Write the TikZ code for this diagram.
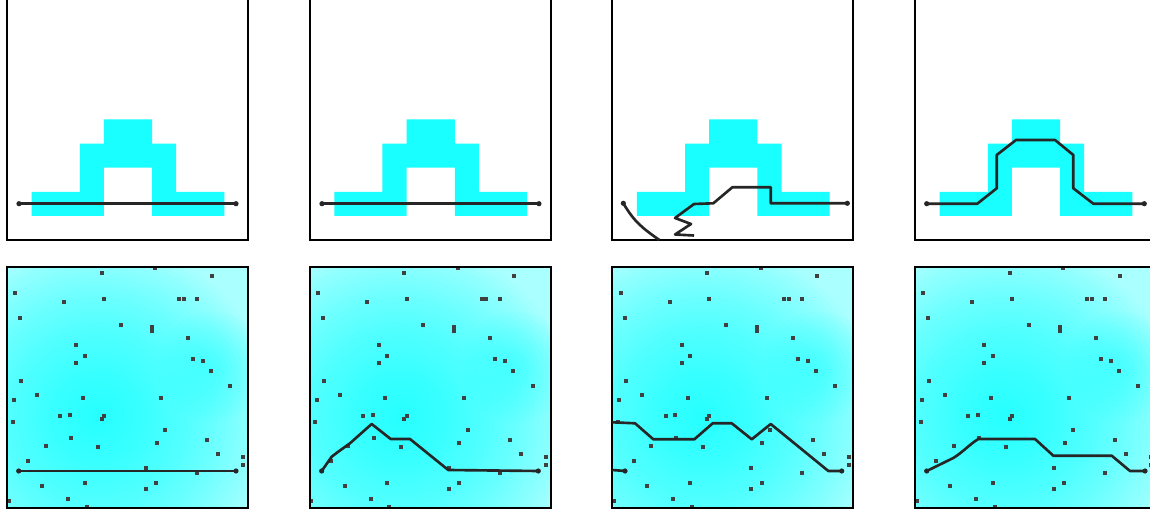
\documentclass[tikz,border=0pt]{standalone}
\usepackage{xcolor}
\usepackage{tikz}

\definecolor{aqua}{RGB}{0,255,255}
\definecolor{paleaqua}{RGB}{170,255,255}
\tikzset{
  frame/.style={draw=black, line width=1.2pt},
  route/.style={draw=black!85, line width=1.5pt, line join=round},
  blob/.style={fill=aqua, opacity=0.035},
  obst/.style={fill=black!75},
}
\newcommand{\pathend}[1]{\fill[black!85] #1 circle (2.6);}

\begin{document}
\begin{tikzpicture}[x=0.2mm, y=-0.2mm]
    \useasboundingbox (0,0) rectangle (1150,509);
    \clip (0,0) rectangle (1150,509);
    \fill[white] (0,0) rectangle (1150,509);

    % the four panel pairs
    \foreach \i in {0,...,3} {
      \begin{scope}[shift={(\i*302.67+7,0)}]
        \fill[aqua!90!white] (24.6,191.8) -- (72.8,191.8) -- (72.8,143.6) -- (96.9,143.6)
          -- (96.9,119.5) -- (145.1,119.5) -- (145.1,143.6) -- (169.2,143.6) -- (169.2,191.8)
          -- (217.4,191.8) -- (217.4,215.9) -- (145.1,215.9) -- (145.1,167.7) -- (96.9,167.7)
          -- (96.9,215.9) -- (24.6,215.9) -- cycle;
        \draw[frame] (0,-5) rectangle (241,240);
        \begin{scope}[shift={(0,267)}]
          \fill[paleaqua] (0,0) rectangle (241,241);
          \begin{scope}
            \clip (0,0) rectangle (241,241);
            \foreach \r in {5,10,...,175} \fill[blob] (90,150) circle (\r);
            \foreach \r in {5,10,...,55} \fill[blob] (205,100) circle (\r);
          \end{scope}
          \foreach \x/\y in {94.7/6.3, 148.3/0.8, 204.7/9, 8.3/26.3, 57.3/35.3, 97/31.7,
              172/31.7, 176.7/31.7, 190/31.7, 13/51.3, 113.7/58, 144.7/59.7, 144.7/64,
              180.7/70.7, 69.3/77.7, 77.7/89.3, 69.3/96, 185.7/91.7, 195.7/93.7, 203.7/103.7,
              14/113.7, 223/119, 7/133, 30/127.7, 75.7/130.7, 154.3/131, 53.3/149, 63/148.3,
              94.7/151.7, 97/149, 5.7/155.3, 158/163, 64/171.3, 38.7/178.7, 91/180,
              149.7/176.3, 200.3/173.3, 211.3/187, 236.3/189.7, 236.3/197.7, 21.3/194,
              139/201.3, 190/205.7, 35/218.7, 77.7/216.3, 149.3/216, 139/222, 61/231.7,
              1.7/234.3, 79.7/239.7}
            \fill[obst] (\x-2,\y-2) rectangle ++(4,4);
          \draw[frame] (0,0) rectangle (241,241);
        \end{scope}
      \end{scope}
    }

    % panel 1
    \begin{scope}[shift={(7,0)}]
      \draw[route] (12,203.7) -- (229,203.7);
      \pathend{(12,203.7)} \pathend{(229,203.7)}
      \draw[route] (11.7,471) -- (229,471);
      \pathend{(11.7,471)} \pathend{(229,471)}
    \end{scope}

    % panel 2
    \begin{scope}[shift={(309.67,0)}]
      \draw[route] (12.3,203.7) -- (229.3,203.7);
      \pathend{(12.3,203.7)} \pathend{(229.3,203.7)}
      \draw[route] (12,471) -- (22,456.7) -- (28.6,451.7) -- (40.3,443.3) -- (62,424)
        -- (81,439) -- (100.3,439) -- (138.6,470) -- (228.6,471);
      \pathend{(12,471)} \pathend{(228.6,471)}
    \end{scope}

    % panel 3
    \begin{scope}[shift={(612.33,0)}]
      \draw[route] (11,203.3) .. controls (22,222) and (30,228) .. (47,240);
      \draw[route] (81.7,235.5) -- (62.7,234.5) -- (78.7,224) -- (62.7,218) -- (81.7,204)
        -- (101,203.3) -- (120,187.3) -- (158.4,187.3) -- (158.4,203.3) -- (235,203.3);
      \pathend{(11,203.3)} \pathend{(235,203.3)}
      \draw[route] (12.7,471) -- (0,470);
      \draw[route] (0,422.3) -- (22.7,423.3) -- (41,439.3) -- (82,439.3) -- (100.4,423.3)
        -- (119.4,423.3) -- (139.4,439.3) -- (158.4,424) -- (216,471) -- (229.4,471);
      \pathend{(12.7,471)} \pathend{(229.4,471)}
    \end{scope}

    % panel 4
    \begin{scope}[shift={(915,0)}]
      \draw[route] (11.7,203.7) -- (62.3,203.7) -- (81.7,188.3) -- (81.7,155) -- (101,140)
        -- (140,140) -- (158.3,155) -- (158.3,188.3) -- (178.3,203.7) -- (229.3,203.7);
      \pathend{(11.7,203.7)} \pathend{(229.3,203.7)}
      \draw[route] (11.7,471) -- (38.3,458) .. controls (48,452) and (55,444) .. (63.3,439)
        -- (120,439) -- (138.3,455.7) -- (196.7,455.7) -- (215,471) -- (230,471);
      \pathend{(11.7,471)} \pathend{(230,471)}
    \end{scope}
\end{tikzpicture}
\end{document}
